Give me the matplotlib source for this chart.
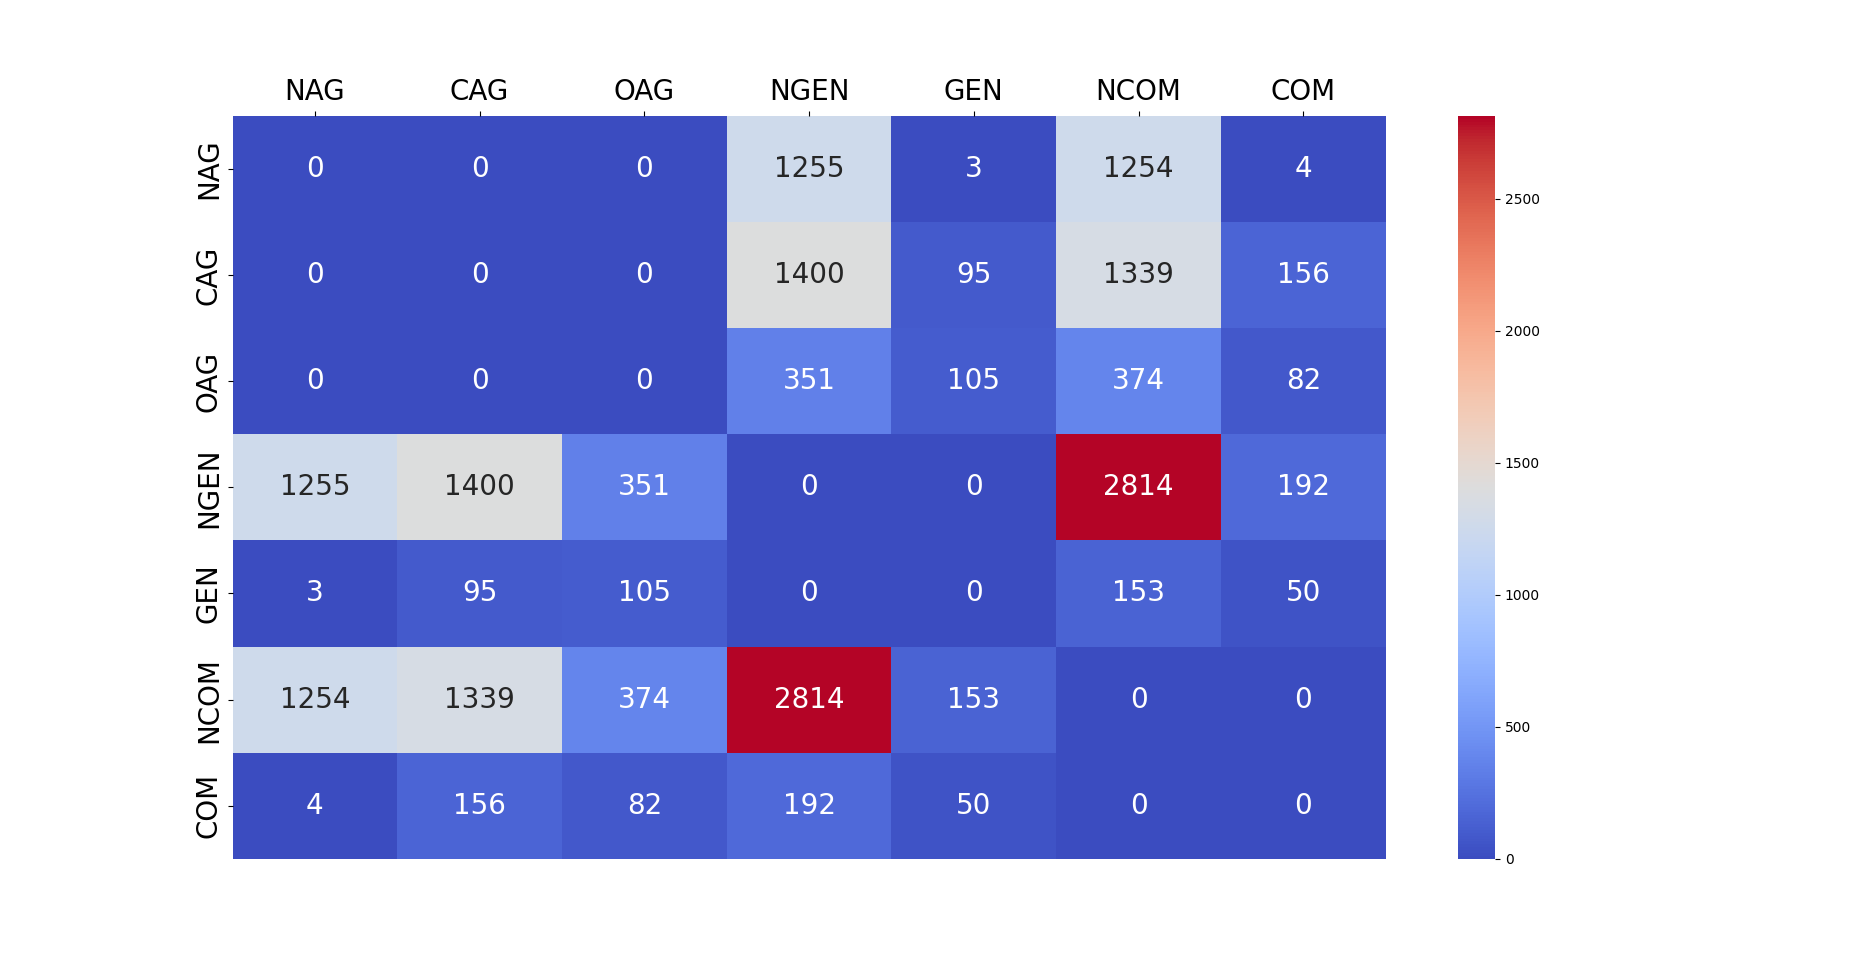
import numpy as np
import matplotlib
matplotlib.use("Agg")
from matplotlib import pyplot as plt
import seaborn as sns

# 类别标签
labels = ["NAG", "CAG", "OAG", "NGEN", "GEN", "NCOM", "COM"]

# 每行的计数
row_nag = [0, 0, 0, 1255, 3, 1254, 4]
row_cag = [0, 0, 0, 1400, 95, 1339, 156]
row_oag = [0, 0, 0, 351, 105, 374, 82]
row_ngen = [1255, 1400, 351, 0, 0, 2814, 192]
row_gen = [3, 95, 105, 0, 0, 153, 50]
row_ncom = [1254, 1339, 374, 2814, 153, 0, 0]
row_com = [4, 156, 82, 192, 50, 0, 0]

matrix = np.array([row_nag, row_cag, row_oag, row_ngen, row_gen, row_ncom, row_com])

fig, ax = plt.subplots(figsize=(18.6, 9.65), dpi=100)
sns.heatmap(matrix, annot=True, fmt="d", cmap="coolwarm",
            xticklabels=labels, yticklabels=labels,
            annot_kws={"size": 20}, ax=ax)

# x轴标签放到顶部
ax.xaxis.tick_top()
ax.tick_params(axis="both", labelsize=20)

fig.savefig("out.png", dpi=100)
